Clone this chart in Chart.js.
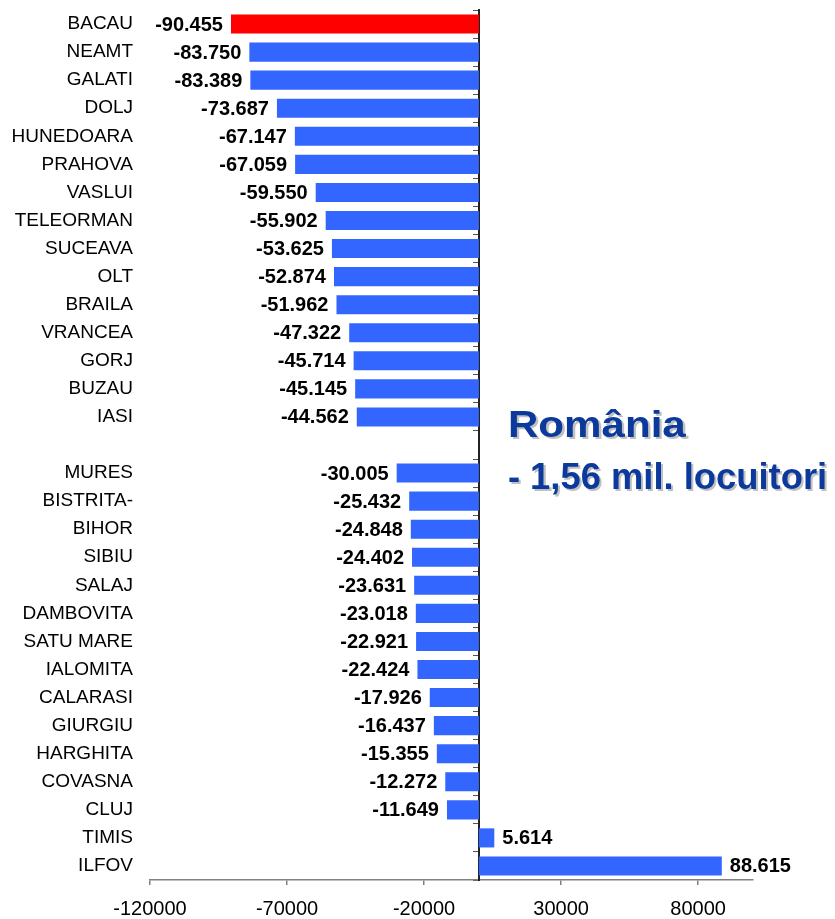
<!DOCTYPE html>
<html>
<head>
<meta charset="utf-8">
<script src="https://cdn.jsdelivr.net/npm/chart.js@4.4.1/dist/chart.umd.min.js"></script>
<style>
  html, body { margin: 0; padding: 0; background: #fff; }
  #wrap { width: 835px; height: 919px; }
</style>
</head>
<body>
<div id="wrap"><canvas id="grafic" width="835" height="919"></canvas></div>
<script>
// judete si diferenta de populatie
const judete = ['BACAU', 'NEAMT', 'GALATI', 'DOLJ', 'HUNEDOARA', 'PRAHOVA', 'VASLUI', 'TELEORMAN',
    'SUCEAVA', 'OLT', 'BRAILA', 'VRANCEA', 'GORJ', 'BUZAU', 'IASI', '',
    'MURES', 'BISTRITA-', 'BIHOR', 'SIBIU', 'SALAJ', 'DAMBOVITA', 'SATU MARE', 'IALOMITA',
    'CALARASI', 'GIURGIU', 'HARGHITA', 'COVASNA', 'CLUJ', 'TIMIS', 'ILFOV'];
const diferente = [-90455, -83750, -83389, -73687, -67147, -67059, -59550, -55902,
    -53625, -52874, -51962, -47322, -45714, -45145, -44562, null,
    -30005, -25432, -24848, -24402, -23631, -23018, -22921, -22424,
    -17926, -16437, -15355, -12272, -11649, 5614, 88615];
const evidentiat = ['BACAU'];
const tickuriX = [-120000, -70000, -20000, 30000, 80000];
const titlu = 'România';
const subtitlu = '- 1,56 mil. locuitori';

const ALBASTRU = '#3366FF';
const ROSU = '#FF0000';

// format cu punct la mii: -90.455
const formatRo = (v) => {
    const s = Math.abs(v).toString().replace(/\B(?=(\d{3})+(?!\d))/g, '.');
    return (v < 0 ? '-' : '') + s;
};

// fara padding de etichete peste chartArea
const faraPadding = (scale) => {
    scale.paddingTop = 0;
    scale.paddingBottom = 0;
};

// etichetele de valoare de la capatul barelor
const etichetePlugin = {
    id: 'etichete',
    afterDatasetsDraw(chart) {
        const ctx = chart.ctx;
        const meta = chart.getDatasetMeta(0);
        ctx.save();
        ctx.font = 'bold 20px "Liberation Sans", Arial, sans-serif';
        ctx.fillStyle = '#000';
        ctx.textBaseline = 'middle';
        meta.data.forEach((bar, i) => {
            const v = diferente[i];
            if (v === null) return;
            if (v < 0) {
                ctx.textAlign = 'right';
                ctx.fillText(formatRo(v), bar.x - 8, bar.y + 1);
            } else {
                ctx.textAlign = 'left';
                ctx.fillText(formatRo(v), bar.x + 8, bar.y + 1);
            }
        });
        ctx.restore();
    }
};

// textul "România" din dreapta
const titluPlugin = {
    id: 'titluRo',
    afterDraw(chart) {
        const ctx = chart.ctx;
        const xs = chart.scales.x;
        const ys = chart.scales.y;
        const x0 = xs.getPixelForValue(0) + 29;
        const y1 = ys.getPixelForValue(14) + 20;
        const y2 = ys.getPixelForValue(16) + 16;
        const scrie = (text, font, x, y, sx) => {
            ctx.save();
            ctx.font = font;
            ctx.textAlign = 'left';
            ctx.textBaseline = 'alphabetic';
            ctx.translate(x, y);
            ctx.scale(sx, 1);
            ctx.fillStyle = '#c0c0c0';
            ctx.fillText(text, 2, 2);
            ctx.fillStyle = '#0B3A9C';
            ctx.fillText(text, 0, 0);
            ctx.restore();
        };
        scrie(titlu, 'bold 36px "Liberation Sans", Arial, sans-serif', x0, y1, 1.17);
        scrie(subtitlu, 'bold 36px "Liberation Sans", Arial, sans-serif', x0, y2, 1.01);
    }
};

const ctx = document.getElementById('grafic');
new Chart(ctx, {
    type: 'bar',
    data: {
        labels: judete,
        datasets: [{
            data: diferente,
            backgroundColor: judete.map(j => evidentiat.includes(j) ? ROSU : ALBASTRU),
            borderWidth: 0,
            categoryPercentage: 1,
            barPercentage: 0.68
        }]
    },
    options: {
        indexAxis: 'y',
        responsive: false,
        animation: false,
        layout: { padding: { top: 10, right: 82, bottom: 0, left: 0 } },
        plugins: {
            legend: { display: false },
            tooltip: { enabled: false }
        },
        scales: {
            x: {
                min: -120000,
                max: 100000,
                afterBuildTicks: (scale) => {
                    scale.ticks = tickuriX.map(v => ({ value: v }));
                },
                afterFit: (scale) => { scale.height = 39; },
                grid: { drawOnChartArea: false, tickLength: 5, color: '#808080', lineWidth: 1.5 },
                border: { color: '#808080', width: 1.5 },
                ticks: {
                    color: '#000',
                    padding: 12,
                    maxRotation: 0,
                    autoSkip: false,
                    callback: (v) => String(v),
                    font: { family: '"Liberation Sans", Arial, sans-serif', size: 20 }
                }
            },
            y: {
                afterFit: (scale) => { scale.width = 150; faraPadding(scale); },
                grid: { display: false, drawTicks: false },
                border: { display: false },
                ticks: {
                    color: '#000',
                    padding: 17,
                    autoSkip: false,
                    font: { family: '"Liberation Sans", Arial, sans-serif', size: 19 }
                }
            },
            y2: {
                type: 'category',
                offset: true,
                position: { x: 0 },
                afterFit: faraPadding,
                grid: { drawOnChartArea: false, offset: true, tickLength: 5, color: '#555' },
                border: { color: '#222', width: 2 },
                ticks: { display: false }
            }
        }
    },
    plugins: [etichetePlugin, titluPlugin]
});
</script>
</body>
</html>
